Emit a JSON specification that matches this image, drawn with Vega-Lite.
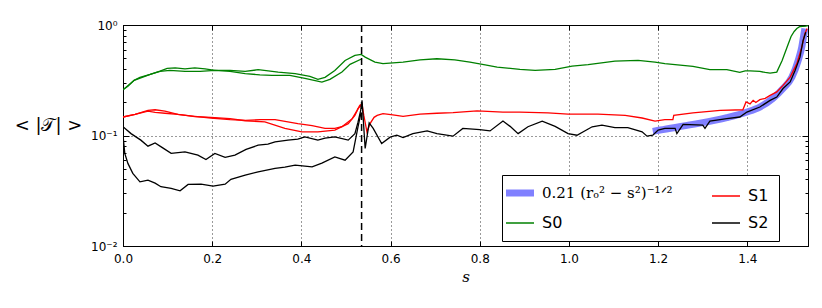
{
  "$schema": "https://vega.github.io/schema/vega-lite/v6.json",
  "autosize": {"type": "none"},
  "width": 685,
  "height": 221,
  "padding": {"left": 123, "top": 25, "right": 14, "bottom": 62},
  "background": "white",
  "config": {
    "view": {"stroke": "black", "strokeWidth": 1},
    "axis": {"domainColor": "black", "tickColor": "black", "labelColor": "black", "labelFont": "DejaVu Sans", "labelFontSize": 12, "labelFlush": false, "gridColor": "black", "gridDash": [1, 3], "gridOpacity": 1, "gridWidth": 0.8, "titleColor": "black"}
  },
  "datasets": {
    "curves": [
      {"s":0,"v":0.259,"curve":"S0a","series":"S0"},{"s":0.011,"v":0.279,"curve":"S0a","series":"S0"},{"s":0.025,"v":0.316,"curve":"S0a","series":"S0"},{"s":0.038,"v":0.336,"curve":"S0a","series":"S0"},{"s":0.061,"v":0.357,"curve":"S0a","series":"S0"},{"s":0.083,"v":0.383,"curve":"S0a","series":"S0"},{"s":0.099,"v":0.405,"curve":"S0a","series":"S0"},{"s":0.117,"v":0.409,"curve":"S0a","series":"S0"},{"s":0.139,"v":0.401,"curve":"S0a","series":"S0"},{"s":0.161,"v":0.409,"curve":"S0a","series":"S0"},{"s":0.184,"v":0.401,"curve":"S0a","series":"S0"},{"s":0.206,"v":0.388,"curve":"S0a","series":"S0"},{"s":0.240,"v":0.388,"curve":"S0a","series":"S0"},{"s":0.274,"v":0.380,"curve":"S0a","series":"S0"},{"s":0.303,"v":0.394,"curve":"S0a","series":"S0"},{"s":0.348,"v":0.375,"curve":"S0a","series":"S0"},{"s":0.386,"v":0.363,"curve":"S0a","series":"S0"},{"s":0.419,"v":0.343,"curve":"S0a","series":"S0"},{"s":0.437,"v":0.322,"curve":"S0a","series":"S0"},{"s":0.453,"v":0.336,"curve":"S0a","series":"S0"},{"s":0.475,"v":0.388,"curve":"S0a","series":"S0"},{"s":0.498,"v":0.478,"curve":"S0a","series":"S0"},{"s":0.520,"v":0.531,"curve":"S0a","series":"S0"},{"s":0.534,"v":0.542,"curve":"S0a","series":"S0"},{"s":0.543,"v":0.512,"curve":"S0a","series":"S0"},{"s":0.565,"v":0.462,"curve":"S0a","series":"S0"},{"s":0.583,"v":0.447,"curve":"S0a","series":"S0"},{"s":0.628,"v":0.462,"curve":"S0a","series":"S0"},{"s":0.666,"v":0.483,"curve":"S0a","series":"S0"},{"s":0.704,"v":0.495,"curve":"S0a","series":"S0"},{"s":0.744,"v":0.483,"curve":"S0a","series":"S0"},{"s":0.778,"v":0.462,"curve":"S0a","series":"S0"},{"s":0.812,"v":0.436,"curve":"S0a","series":"S0"},{"s":0.839,"v":0.416,"curve":"S0a","series":"S0"},{"s":0.890,"v":0.397,"curve":"S0a","series":"S0"},{"s":0.924,"v":0.388,"curve":"S0a","series":"S0"},{"s":0.969,"v":0.397,"curve":"S0a","series":"S0"},{"s":1.007,"v":0.425,"curve":"S0a","series":"S0"},{"s":1.043,"v":0.437,"curve":"S0a","series":"S0"},{"s":1.103,"v":0.471,"curve":"S0a","series":"S0"},{"s":1.155,"v":0.478,"curve":"S0a","series":"S0"},{"s":1.193,"v":0.462,"curve":"S0a","series":"S0"},{"s":1.215,"v":0.447,"curve":"S0a","series":"S0"},{"s":1.278,"v":0.422,"curve":"S0a","series":"S0"},{"s":1.316,"v":0.394,"curve":"S0a","series":"S0"},{"s":1.354,"v":0.394,"curve":"S0a","series":"S0"},{"s":1.383,"v":0.372,"curve":"S0a","series":"S0"},{"s":1.395,"v":0.384,"curve":"S0a","series":"S0"},{"s":1.406,"v":0.384,"curve":"S0a","series":"S0"},{"s":1.428,"v":0.380,"curve":"S0a","series":"S0"},{"s":1.440,"v":0.372,"curve":"S0a","series":"S0"},{"s":1.451,"v":0.367,"curve":"S0a","series":"S0"},{"s":1.466,"v":0.375,"curve":"S0a","series":"S0"},{"s":1.478,"v":0.478,"curve":"S0a","series":"S0"},{"s":1.489,"v":0.630,"curve":"S0a","series":"S0"},{"s":1.498,"v":0.787,"curve":"S0a","series":"S0"},{"s":1.505,"v":0.874,"curve":"S0a","series":"S0"},{"s":1.511,"v":0.930,"curve":"S0a","series":"S0"},{"s":1.518,"v":0.969,"curve":"S0a","series":"S0"},{"s":1.531,"v":0.975,"curve":"S0a","series":"S0"},{"s":1.536,"v":0.99,"curve":"S0a","series":"S0"},
      {"s":0,"v":0.259,"curve":"S0b","series":"S0"},{"s":0.025,"v":0.316,"curve":"S0b","series":"S0"},{"s":0.061,"v":0.357,"curve":"S0b","series":"S0"},{"s":0.083,"v":0.380,"curve":"S0b","series":"S0"},{"s":0.105,"v":0.388,"curve":"S0b","series":"S0"},{"s":0.139,"v":0.380,"curve":"S0b","series":"S0"},{"s":0.173,"v":0.380,"curve":"S0b","series":"S0"},{"s":0.206,"v":0.388,"curve":"S0b","series":"S0"},{"s":0.240,"v":0.380,"curve":"S0b","series":"S0"},{"s":0.274,"v":0.363,"curve":"S0b","series":"S0"},{"s":0.307,"v":0.354,"curve":"S0b","series":"S0"},{"s":0.334,"v":0.350,"curve":"S0b","series":"S0"},{"s":0.374,"v":0.350,"curve":"S0b","series":"S0"},{"s":0.408,"v":0.329,"curve":"S0b","series":"S0"},{"s":0.446,"v":0.304,"curve":"S0b","series":"S0"},{"s":0.464,"v":0.322,"curve":"S0b","series":"S0"},{"s":0.491,"v":0.375,"curve":"S0b","series":"S0"},{"s":0.509,"v":0.440,"curve":"S0b","series":"S0"},{"s":0.536,"v":0.495,"curve":"S0b","series":"S0"},
      {"s":0,"v":0.147,"curve":"S1a","series":"S1"},{"s":0.027,"v":0.155,"curve":"S1a","series":"S1"},{"s":0.056,"v":0.169,"curve":"S1a","series":"S1"},{"s":0.072,"v":0.171,"curve":"S1a","series":"S1"},{"s":0.094,"v":0.166,"curve":"S1a","series":"S1"},{"s":0.123,"v":0.155,"curve":"S1a","series":"S1"},{"s":0.161,"v":0.149,"curve":"S1a","series":"S1"},{"s":0.197,"v":0.144,"curve":"S1a","series":"S1"},{"s":0.240,"v":0.139,"curve":"S1a","series":"S1"},{"s":0.274,"v":0.137,"curve":"S1a","series":"S1"},{"s":0.307,"v":0.139,"curve":"S1a","series":"S1"},{"s":0.341,"v":0.139,"curve":"S1a","series":"S1"},{"s":0.392,"v":0.128,"curve":"S1a","series":"S1"},{"s":0.424,"v":0.123,"curve":"S1a","series":"S1"},{"s":0.453,"v":0.116,"curve":"S1a","series":"S1"},{"s":0.475,"v":0.116,"curve":"S1a","series":"S1"},{"s":0.491,"v":0.120,"curve":"S1a","series":"S1"},{"s":0.514,"v":0.142,"curve":"S1a","series":"S1"},{"s":0.525,"v":0.169,"curve":"S1a","series":"S1"},{"s":0.531,"v":0.188,"curve":"S1a","series":"S1"},{"s":0.536,"v":0.192,"curve":"S1a","series":"S1"},{"s":0.540,"v":0.152,"curve":"S1a","series":"S1"},{"s":0.547,"v":0.108,"curve":"S1a","series":"S1"},{"s":0.554,"v":0.128,"curve":"S1a","series":"S1"},{"s":0.563,"v":0.146,"curve":"S1a","series":"S1"},{"s":0.570,"v":0.152,"curve":"S1a","series":"S1"},{"s":0.583,"v":0.158,"curve":"S1a","series":"S1"},{"s":0.605,"v":0.154,"curve":"S1a","series":"S1"},{"s":0.628,"v":0.149,"curve":"S1a","series":"S1"},{"s":0.666,"v":0.156,"curve":"S1a","series":"S1"},{"s":0.704,"v":0.159,"curve":"S1a","series":"S1"},{"s":0.740,"v":0.161,"curve":"S1a","series":"S1"},{"s":0.794,"v":0.167,"curve":"S1a","series":"S1"},{"s":0.852,"v":0.163,"curve":"S1a","series":"S1"},{"s":0.890,"v":0.163,"curve":"S1a","series":"S1"},{"s":0.953,"v":0.160,"curve":"S1a","series":"S1"},{"s":0.998,"v":0.156,"curve":"S1a","series":"S1"},{"s":1.065,"v":0.156,"curve":"S1a","series":"S1"},{"s":1.126,"v":0.152,"curve":"S1a","series":"S1"},{"s":1.164,"v":0.144,"curve":"S1a","series":"S1"},{"s":1.193,"v":0.135,"curve":"S1a","series":"S1"},{"s":1.215,"v":0.139,"curve":"S1a","series":"S1"},{"s":1.233,"v":0.139,"curve":"S1a","series":"S1"},{"s":1.235,"v":0.152,"curve":"S1a","series":"S1"},{"s":1.278,"v":0.160,"curve":"S1a","series":"S1"},{"s":1.339,"v":0.169,"curve":"S1a","series":"S1"},{"s":1.390,"v":0.171,"curve":"S1a","series":"S1"},{"s":1.397,"v":0.201,"curve":"S1a","series":"S1"},{"s":1.406,"v":0.193,"curve":"S1a","series":"S1"},{"s":1.413,"v":0.208,"curve":"S1a","series":"S1"},{"s":1.419,"v":0.199,"curve":"S1a","series":"S1"},{"s":1.428,"v":0.211,"curve":"S1a","series":"S1"},{"s":1.440,"v":0.217,"curve":"S1a","series":"S1"},{"s":1.451,"v":0.231,"curve":"S1a","series":"S1"},{"s":1.466,"v":0.248,"curve":"S1a","series":"S1"},{"s":1.480,"v":0.284,"curve":"S1a","series":"S1"},{"s":1.496,"v":0.338,"curve":"S1a","series":"S1"},{"s":1.511,"v":0.447,"curve":"S1a","series":"S1"},{"s":1.522,"v":0.630,"curve":"S1a","series":"S1"},{"s":1.529,"v":0.833,"curve":"S1a","series":"S1"},{"s":1.534,"v":0.930,"curve":"S1a","series":"S1"},
      {"s":0,"v":0.147,"curve":"S1b","series":"S1"},{"s":0.027,"v":0.155,"curve":"S1b","series":"S1"},{"s":0.056,"v":0.166,"curve":"S1b","series":"S1"},{"s":0.072,"v":0.162,"curve":"S1b","series":"S1"},{"s":0.094,"v":0.159,"curve":"S1b","series":"S1"},{"s":0.123,"v":0.155,"curve":"S1b","series":"S1"},{"s":0.161,"v":0.148,"curve":"S1b","series":"S1"},{"s":0.197,"v":0.146,"curve":"S1b","series":"S1"},{"s":0.240,"v":0.142,"curve":"S1b","series":"S1"},{"s":0.274,"v":0.136,"curve":"S1b","series":"S1"},{"s":0.318,"v":0.133,"curve":"S1b","series":"S1"},{"s":0.363,"v":0.116,"curve":"S1b","series":"S1"},{"s":0.401,"v":0.108,"curve":"S1b","series":"S1"},{"s":0.437,"v":0.108,"curve":"S1b","series":"S1"},{"s":0.475,"v":0.112,"curve":"S1b","series":"S1"},{"s":0.505,"v":0.128,"curve":"S1b","series":"S1"},{"s":0.520,"v":0.152,"curve":"S1b","series":"S1"},{"s":0.527,"v":0.175,"curve":"S1b","series":"S1"},{"s":0.534,"v":0.188,"curve":"S1b","series":"S1"},
      {"s":0,"v":0.120,"curve":"S2a","series":"S2"},{"s":0.018,"v":0.104,"curve":"S2a","series":"S2"},{"s":0.040,"v":0.0908,"curve":"S2a","series":"S2"},{"s":0.056,"v":0.080,"curve":"S2a","series":"S2"},{"s":0.072,"v":0.0857,"curve":"S2a","series":"S2"},{"s":0.090,"v":0.0768,"curve":"S2a","series":"S2"},{"s":0.108,"v":0.0689,"curve":"S2a","series":"S2"},{"s":0.139,"v":0.0711,"curve":"S2a","series":"S2"},{"s":0.168,"v":0.0664,"curve":"S2a","series":"S2"},{"s":0.186,"v":0.0607,"curve":"S2a","series":"S2"},{"s":0.206,"v":0.0689,"curve":"S2a","series":"S2"},{"s":0.229,"v":0.0633,"curve":"S2a","series":"S2"},{"s":0.251,"v":0.0664,"curve":"S2a","series":"S2"},{"s":0.276,"v":0.0748,"curve":"S2a","series":"S2"},{"s":0.303,"v":0.0817,"curve":"S2a","series":"S2"},{"s":0.325,"v":0.0834,"curve":"S2a","series":"S2"},{"s":0.341,"v":0.0875,"curve":"S2a","series":"S2"},{"s":0.370,"v":0.0908,"curve":"S2a","series":"S2"},{"s":0.392,"v":0.0926,"curve":"S2a","series":"S2"},{"s":0.408,"v":0.0971,"curve":"S2a","series":"S2"},{"s":0.437,"v":0.0908,"curve":"S2a","series":"S2"},{"s":0.453,"v":0.0946,"curve":"S2a","series":"S2"},{"s":0.475,"v":0.0971,"curve":"S2a","series":"S2"},{"s":0.505,"v":0.0908,"curve":"S2a","series":"S2"},{"s":0.520,"v":0.104,"curve":"S2a","series":"S2"},{"s":0.527,"v":0.132,"curve":"S2a","series":"S2"},{"s":0.533,"v":0.169,"curve":"S2a","series":"S2"},{"s":0.536,"v":0.208,"curve":"S2a","series":"S2"},{"s":0.543,"v":0.0763,"curve":"S2a","series":"S2"},{"s":0.552,"v":0.130,"curve":"S2a","series":"S2"},{"s":0.561,"v":0.116,"curve":"S2a","series":"S2"},{"s":0.580,"v":0.0847,"curve":"S2a","series":"S2"},{"s":0.599,"v":0.0966,"curve":"S2a","series":"S2"},{"s":0.614,"v":0.1006,"curve":"S2a","series":"S2"},{"s":0.628,"v":0.0959,"curve":"S2a","series":"S2"},{"s":0.650,"v":0.104,"curve":"S2a","series":"S2"},{"s":0.682,"v":0.110,"curve":"S2a","series":"S2"},{"s":0.704,"v":0.104,"curve":"S2a","series":"S2"},{"s":0.740,"v":0.0986,"curve":"S2a","series":"S2"},{"s":0.762,"v":0.116,"curve":"S2a","series":"S2"},{"s":0.800,"v":0.113,"curve":"S2a","series":"S2"},{"s":0.823,"v":0.110,"curve":"S2a","series":"S2"},{"s":0.852,"v":0.135,"curve":"S2a","series":"S2"},{"s":0.868,"v":0.121,"curve":"S2a","series":"S2"},{"s":0.886,"v":0.104,"curve":"S2a","series":"S2"},{"s":0.908,"v":0.120,"curve":"S2a","series":"S2"},{"s":0.940,"v":0.135,"curve":"S2a","series":"S2"},{"s":0.969,"v":0.121,"curve":"S2a","series":"S2"},{"s":0.998,"v":0.104,"curve":"S2a","series":"S2"},{"s":1.018,"v":0.1006,"curve":"S2a","series":"S2"},{"s":1.052,"v":0.120,"curve":"S2a","series":"S2"},{"s":1.074,"v":0.124,"curve":"S2a","series":"S2"},{"s":1.103,"v":0.118,"curve":"S2a","series":"S2"},{"s":1.132,"v":0.118,"curve":"S2a","series":"S2"},{"s":1.164,"v":0.108,"curve":"S2a","series":"S2"},{"s":1.175,"v":0.0986,"curve":"S2a","series":"S2"},{"s":1.188,"v":0.1006,"curve":"S2a","series":"S2"},{"s":1.200,"v":0.112,"curve":"S2a","series":"S2"},{"s":1.215,"v":0.116,"curve":"S2a","series":"S2"},{"s":1.238,"v":0.116,"curve":"S2a","series":"S2"},{"s":1.242,"v":0.104,"curve":"S2a","series":"S2"},{"s":1.256,"v":0.126,"curve":"S2a","series":"S2"},{"s":1.300,"v":0.124,"curve":"S2a","series":"S2"},{"s":1.305,"v":0.116,"curve":"S2a","series":"S2"},{"s":1.316,"v":0.135,"curve":"S2a","series":"S2"},{"s":1.354,"v":0.142,"curve":"S2a","series":"S2"},{"s":1.383,"v":0.147,"curve":"S2a","series":"S2"},{"s":1.399,"v":0.163,"curve":"S2a","series":"S2"},{"s":1.428,"v":0.181,"curve":"S2a","series":"S2"},{"s":1.451,"v":0.208,"curve":"S2a","series":"S2"},{"s":1.466,"v":0.223,"curve":"S2a","series":"S2"},{"s":1.480,"v":0.266,"curve":"S2a","series":"S2"},{"s":1.496,"v":0.305,"curve":"S2a","series":"S2"},{"s":1.507,"v":0.388,"curve":"S2a","series":"S2"},{"s":1.518,"v":0.512,"curve":"S2a","series":"S2"},{"s":1.525,"v":0.725,"curve":"S2a","series":"S2"},{"s":1.531,"v":0.861,"curve":"S2a","series":"S2"},
      {"s":0,"v":0.1006,"curve":"S2b","series":"S2"},{"s":0.004,"v":0.0689,"curve":"S2b","series":"S2"},{"s":0.011,"v":0.0559,"curve":"S2b","series":"S2"},{"s":0.022,"v":0.0454,"curve":"S2b","series":"S2"},{"s":0.038,"v":0.0381,"curve":"S2b","series":"S2"},{"s":0.056,"v":0.0395,"curve":"S2b","series":"S2"},{"s":0.072,"v":0.0371,"curve":"S2b","series":"S2"},{"s":0.085,"v":0.0344,"curve":"S2b","series":"S2"},{"s":0.108,"v":0.0333,"curve":"S2b","series":"S2"},{"s":0.128,"v":0.0316,"curve":"S2b","series":"S2"},{"s":0.146,"v":0.0361,"curve":"S2b","series":"S2"},{"s":0.175,"v":0.0363,"curve":"S2b","series":"S2"},{"s":0.202,"v":0.0349,"curve":"S2b","series":"S2"},{"s":0.229,"v":0.0363,"curve":"S2b","series":"S2"},{"s":0.242,"v":0.0401,"curve":"S2b","series":"S2"},{"s":0.274,"v":0.0438,"curve":"S2b","series":"S2"},{"s":0.303,"v":0.0469,"curve":"S2b","series":"S2"},{"s":0.341,"v":0.0504,"curve":"S2b","series":"S2"},{"s":0.363,"v":0.0518,"curve":"S2b","series":"S2"},{"s":0.386,"v":0.0540,"curve":"S2b","series":"S2"},{"s":0.424,"v":0.0521,"curve":"S2b","series":"S2"},{"s":0.446,"v":0.0562,"curve":"S2b","series":"S2"},{"s":0.475,"v":0.0641,"curve":"S2b","series":"S2"},{"s":0.498,"v":0.0598,"curve":"S2b","series":"S2"},{"s":0.516,"v":0.0711,"curve":"S2b","series":"S2"},{"s":0.527,"v":0.120,"curve":"S2b","series":"S2"},{"s":0.534,"v":0.163,"curve":"S2b","series":"S2"}
    ],
    "fit": [
      {"s":1.188,"v":0.109,"series":"fit"},{"s":1.204,"v":0.112,"series":"fit"},{"s":1.278,"v":0.126,"series":"fit"},{"s":1.354,"v":0.145,"series":"fit"},{"s":1.399,"v":0.163,"series":"fit"},{"s":1.428,"v":0.181,"series":"fit"},{"s":1.457,"v":0.216,"series":"fit"},{"s":1.480,"v":0.266,"series":"fit"},{"s":1.500,"v":0.338,"series":"fit"},{"s":1.514,"v":0.478,"series":"fit"},{"s":1.522,"v":0.630,"series":"fit"},{"s":1.527,"v":0.833,"series":"fit"},{"s":1.529,"v":0.930,"series":"fit"}
    ]
  },
  "layer": [
    {
      "data": {"name": "fit"},
      "mark": {"type": "line", "strokeWidth": 7, "interpolate": "monotone", "clip": true},
      "encoding": {
        "x": {"field": "s", "type": "quantitative", "scale": {"domain": [0, 1.536], "nice": false, "zero": false},
          "axis": {"orient": "bottom", "values": [0, 0.2, 0.4, 0.6, 0.8, 1.0, 1.2, 1.4], "format": ".1f", "tickSize": -5, "labelPadding": 12, "grid": true, "title": "s", "titleFont": "DejaVu Serif", "titleFontStyle": "italic", "titleFontWeight": "normal", "titleFontSize": 15, "titlePadding": 5}},
        "y": {"field": "v", "type": "quantitative", "scale": {"type": "log", "domain": [0.01, 1], "nice": false},
          "axis": {"orient": "left", "values": [0.01, 0.1, 1], "labelExpr": "datum.value >= 0.99 ? '10⁰' : datum.value >= 0.099 ? '10⁻¹' : '10⁻²'", "tickSize": -6, "labelPadding": 12, "labelFontSize": 12, "grid": true, "title": "< |𝒯| >", "titleAngle": 0, "titleX": -75, "titleY": 100, "titleAlign": "center", "titleBaseline": "middle", "titleFont": "DejaVu Sans", "titleFontWeight": "normal", "titleFontSize": 18}},
        "color": {"field": "series", "type": "nominal",
          "scale": {"domain": ["fit", "S0", "S1", "S2"], "range": ["#8080ff", "#008000", "#ff0000", "#000000"]},
          "legend": {"orient": "none", "legendX": 379, "legendY": 150, "columns": 2, "title": null, "strokeColor": "black", "fillColor": "white", "padding": 10, "cornerRadius": 0, "symbolType": "stroke", "symbolSize": 784, "symbolStrokeWidth": 1.5, "labelFontSize": 15, "labelFont": "DejaVu Sans", "labelColor": "black", "labelOffset": 14, "rowPadding": 8, "columnPadding": 36, "labelLimit": 300,
            "labelExpr": "datum.value === 'fit' ? '0.21 (rₒ² − s²)⁻¹ᐟ²' : datum.value",
            "encode": {"symbols": {"update": {"strokeWidth": {"signal": "datum.value === 'fit' ? 7 : 1.5"}}}, "labels": {"update": {"font": {"signal": "datum.value === 'fit' ? 'DejaVu Serif' : 'DejaVu Sans'"}, "fontSize": {"signal": "datum.value === 'fit' ? 15 : 16"}}}}}}
      }
    },
    {
      "data": {"name": "curves"},
      "mark": {"type": "line", "strokeWidth": 1.3, "clip": true},
      "encoding": {
        "x": {"field": "s", "type": "quantitative", "axis": {"orient": "top", "values": [0, 0.2, 0.4, 0.6, 0.8, 1.0, 1.2, 1.4], "labels": false, "tickSize": -5, "grid": false, "domain": false, "title": null}},
        "y": {"field": "v", "type": "quantitative", "axis": {"orient": "right", "values": [0.01, 0.1, 1], "labels": false, "tickSize": -6, "grid": false, "domain": false, "title": null}},
        "color": {"field": "series", "type": "nominal"},
        "detail": {"field": "curve"}
      }
    },
    {
      "data": {"values": [{}]},
      "mark": {"type": "rule", "strokeDash": [7, 4], "strokeWidth": 1.5, "color": "black"},
      "encoding": {"x": {"datum": 0.535, "type": "quantitative", "axis": null}}
    },
    {
      "data": {"name": "fit"},
      "mark": {"type": "line", "opacity": 0},
      "encoding": {
        "x": {"field": "s", "type": "quantitative", "axis": null},
        "y": {"field": "v", "type": "quantitative", "axis": {"orient": "left", "values": [0.02, 0.03, 0.04, 0.05, 0.06, 0.07, 0.08, 0.09, 0.2, 0.3, 0.4, 0.5, 0.6, 0.7, 0.8, 0.9], "labels": false, "tickSize": -3, "grid": false, "domain": false, "title": null}}
      }
    },
    {
      "data": {"name": "fit"},
      "mark": {"type": "line", "opacity": 0},
      "encoding": {
        "x": {"field": "s", "type": "quantitative", "axis": null},
        "y": {"field": "v", "type": "quantitative", "axis": {"orient": "right", "values": [0.02, 0.03, 0.04, 0.05, 0.06, 0.07, 0.08, 0.09, 0.2, 0.3, 0.4, 0.5, 0.6, 0.7, 0.8, 0.9], "labels": false, "tickSize": -3, "grid": false, "domain": false, "title": null}}
      }
    }
  ],
  "resolve": {"axis": {"x": "independent", "y": "independent"}}
}
